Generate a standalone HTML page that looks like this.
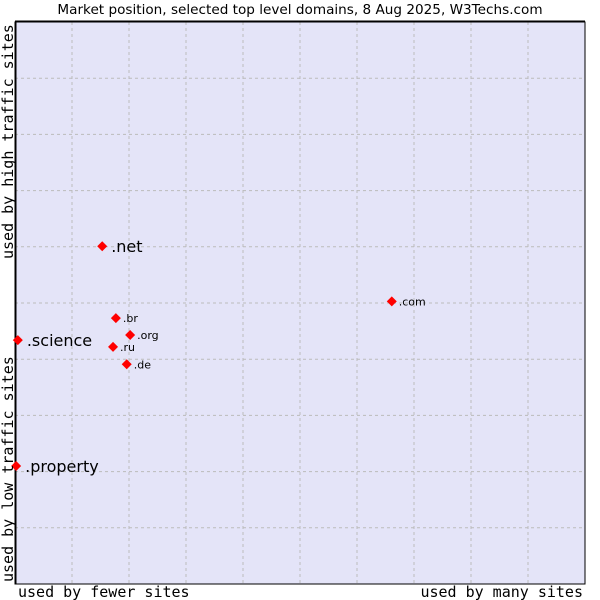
<!DOCTYPE html>
<html><head><meta charset="utf-8"><style>
body{margin:0;background:#fff;}
svg{display:block;font-family:"DejaVu Sans","Liberation Sans",sans-serif;}
</style></head><body>
<svg id="chart" width="600" height="600">
<text x="300" y="14" text-anchor="middle" font-size="13.6" fill="#000">Market position, selected top level domains, 8 Aug 2025, W3Techs.com</text>
<rect x="15" y="22" width="570" height="562" fill="#e4e4f8" stroke="#000" stroke-width="1"/>
<g id="grid"></g>
<line x1="15" y1="21.5" x2="585" y2="21.5" stroke="#000" stroke-width="2"/>
<line x1="15.5" y1="22" x2="15.5" y2="584" stroke="#000" stroke-width="2"/>
<g id="points"></g>
<text x="18" y="597" font-family="DejaVu Sans Mono,Liberation Mono,monospace" font-size="15">used by fewer sites</text>
<text x="583" y="597" text-anchor="end" font-family="DejaVu Sans Mono,Liberation Mono,monospace" font-size="15">used by many sites</text>
<text transform="translate(13,582) rotate(-90)" font-family="DejaVu Sans Mono,Liberation Mono,monospace" font-size="15">used by low traffic sites</text>
<text transform="translate(13,259) rotate(-90)" font-family="DejaVu Sans Mono,Liberation Mono,monospace" font-size="15">used by high traffic sites</text>
</svg>
<script>
const domains=[".net",".com",".br",".org",".ru",".de",".science",".property"];
const usageX=[15.3,66.1,17.7,20.2,17.2,19.6,0.5,0.2];
const trafficY=[60.1,50.3,47.3,44.3,42.2,39.1,43.4,21.0];
const bigLabel=[true,false,false,false,false,false,true,true];
const ns="http://www.w3.org/2000/svg";
const L=15,R=585,T=22,B=584;
const sx=v=>L+v/100*(R-L);
const sy=v=>B-v/100*(B-T);
const grid=document.getElementById('grid');
for(let i=1;i<10;i++){
  const lx=document.createElementNS(ns,'line');
  lx.setAttribute('x1',sx(i*10));lx.setAttribute('x2',sx(i*10));lx.setAttribute('y1',T);lx.setAttribute('y2',B);
  lx.setAttribute('stroke','#bbb');lx.setAttribute('stroke-dasharray','3,3');
  
  
  grid.appendChild(lx);
  const ly=document.createElementNS(ns,'line');
  ly.setAttribute('y1',sy(i*10));ly.setAttribute('y2',sy(i*10));ly.setAttribute('x1',L);ly.setAttribute('x2',R);
  ly.setAttribute('stroke','#bbb');ly.setAttribute('stroke-dasharray','3,3');
  
  
  grid.appendChild(ly);
}
const pts=document.getElementById('points');
domains.forEach((d,i)=>{
  const x=sx(usageX[i]),y=sy(trafficY[i]);
  const p=document.createElementNS(ns,'polygon');
  p.setAttribute('points',`${x},${y-5} ${x+5},${y} ${x},${y+5} ${x-5},${y}`);
  p.setAttribute('fill','#f00');
  
  
  pts.appendChild(p);
  const t=document.createElementNS(ns,'text');
  t.setAttribute('x',x+(bigLabel[i]?9:7));
  t.setAttribute('y',y+(bigLabel[i]?6:4));
  t.setAttribute('font-size',bigLabel[i]?'16':'11');
  t.textContent=d;
  
  
  pts.appendChild(t);
});
</script>
</body></html>
